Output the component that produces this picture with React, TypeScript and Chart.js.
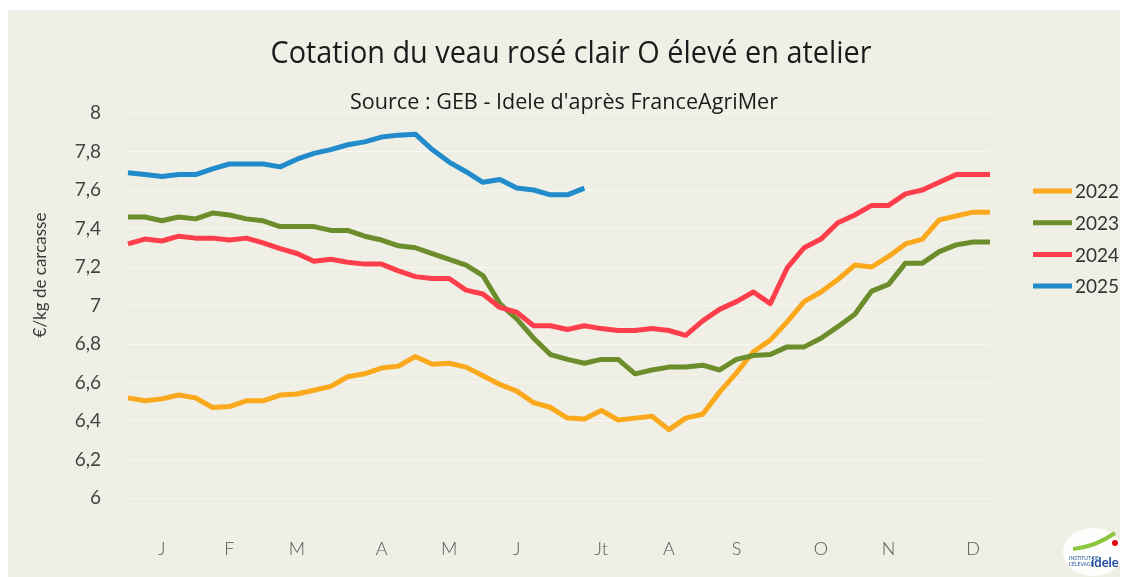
import React, { useEffect, useRef } from "react";
import { Chart, registerables } from "chart.js";

Chart.register(...registerables);

// Weekly categories (52 weeks), month initials placed at mid-month weeks
const WEEK_LABELS = [
  "", "", "J", "", "", "", "F", "", "", "", "M", "", "", "",
  "", "A", "", "", "", "M", "", "", "", "J", "", "", "", "",
  "Jt", "", "", "", "A", "", "", "", "S", "", "", "", "", "O",
  "", "", "", "N", "", "", "", "", "D", "",
];

const SERIES_NAMES = ["2022", "2023", "2024", "2025"];

const VALUES_2022 = [
  6.52, 6.505, 6.515, 6.535, 6.52, 6.47, 6.475, 6.505, 6.505, 6.535,
  6.54, 6.56, 6.58, 6.63, 6.645, 6.675, 6.685, 6.735, 6.695, 6.7,
  6.68, 6.635, 6.59, 6.555, 6.495, 6.47, 6.415, 6.41, 6.455, 6.405,
  6.415, 6.425, 6.355, 6.415, 6.435, 6.55, 6.65, 6.76, 6.82, 6.915,
  7.02, 7.07, 7.135, 7.21, 7.2, 7.255, 7.32, 7.345, 7.445, 7.465,
  7.485, 7.485,
];

const VALUES_2023 = [
  7.46, 7.46, 7.44, 7.46, 7.45, 7.48, 7.47, 7.45, 7.44, 7.41,
  7.41, 7.41, 7.39, 7.39, 7.36, 7.34, 7.31, 7.3, 7.27, 7.24,
  7.21, 7.155, 7.01, 6.93, 6.83, 6.745, 6.72, 6.7, 6.72, 6.72,
  6.645, 6.665, 6.68, 6.68, 6.69, 6.665, 6.72, 6.74, 6.745, 6.785,
  6.785, 6.83, 6.89, 6.955, 7.075, 7.11, 7.22, 7.22, 7.28, 7.315,
  7.33, 7.33,
];

const VALUES_2024 = [
  7.32, 7.345, 7.335, 7.36, 7.35, 7.35, 7.34, 7.35, 7.325, 7.295,
  7.27, 7.23, 7.24, 7.225, 7.215, 7.215, 7.18, 7.15, 7.14, 7.14,
  7.08, 7.06, 6.99, 6.965, 6.895, 6.895, 6.875, 6.895, 6.88, 6.87,
  6.87, 6.88, 6.87, 6.845, 6.92, 6.98, 7.02, 7.07, 7.01, 7.195,
  7.3, 7.345, 7.43, 7.47, 7.52, 7.52, 7.58, 7.6, 7.64, 7.68,
  7.68, 7.68,
];

const VALUES_2025 = [
  7.69, 7.68, 7.67, 7.68, 7.68, 7.71, 7.735, 7.735, 7.735, 7.72,
  7.76, 7.79, 7.81, 7.835, 7.85, 7.875, 7.885, 7.89, 7.81, 7.745,
  7.695, 7.64, 7.655, 7.61, 7.6, 7.575, 7.575, 7.61,
];

const SERIES_COLORS = ["#FBA91C", "#6C8D2B", "#FF3E4C", "#218BCB"];

const TITLE = "Cotation du veau rosé clair O élevé en atelier";
const SUBTITLE = "Source : GEB - Idele d'après FranceAgriMer";
const Y_TITLE = "€/kg de carcasse";

const Y_MIN = 6;
const Y_MAX = 8;
const Y_STEP = 0.2;

const TITLE_FONT = "'Open Sans', 'Noto Sans', sans-serif";
const BODY = "Lato, 'Noto Sans', sans-serif";

function drawFitted(ctx: any, text: string, cx: number, baseline: number, font: string, width: number) {
  ctx.save();
  ctx.font = font;
  const w = ctx.measureText(text).width;
  ctx.translate(cx, baseline);
  ctx.scale(width / w, 1);
  ctx.textAlign = "center";
  ctx.textBaseline = "alphabetic";
  ctx.fillText(text, 0, 0);
  ctx.restore();
}

const decorPlugin = {
  id: "decor",
  afterDraw(chart: any) {
    const { ctx, chartArea } = chart;
    ctx.save();
    // Titles
    ctx.fillStyle = "#1b1b1b";
    drawFitted(ctx, TITLE, 563, 52.5, `31px ${TITLE_FONT}`, 601);
    drawFitted(ctx, SUBTITLE, 556, 98.5, `21px ${TITLE_FONT}`, 428);

    // Y axis title
    ctx.save();
    ctx.translate(33, 265);
    ctx.rotate(-Math.PI / 2);
    ctx.font = `17px ${BODY}`;
    ctx.fillStyle = "#3a3a3a";
    ctx.textAlign = "center";
    ctx.textBaseline = "middle";
    ctx.fillText(Y_TITLE, 0, 0);
    ctx.restore();

    // Legend
    chart.data.datasets.forEach((ds: any, i: number) => {
      const y = chartArea.top + 78 + i * 31.7;
      ctx.beginPath();
      ctx.strokeStyle = ds.borderColor;
      ctx.lineWidth = 5;
      ctx.lineCap = "butt";
      ctx.moveTo(chartArea.right + 43, y);
      ctx.lineTo(chartArea.right + 82, y);
      ctx.stroke();
      ctx.fillStyle = "#333333";
      ctx.textAlign = "left";
      ctx.textBaseline = "middle";
      ctx.font = `19px ${BODY}`;
      ctx.fillText(ds.label, chartArea.right + 85, y + 1);
    });

    // Small logo (bottom right)
    const lx = chart.width - 55;
    const ly = chart.height - 50;
    ctx.fillStyle = "rgba(255,255,255,0.9)";
    ctx.beginPath();
    ctx.ellipse(lx + 28, ly + 25, 30, 24, 0, 0, Math.PI * 2);
    ctx.fill();
    ctx.strokeStyle = "#8DC63F";
    ctx.lineWidth = 4;
    ctx.beginPath();
    ctx.moveTo(lx + 8, ly + 22);
    ctx.quadraticCurveTo(lx + 30, ly + 20, lx + 50, ly + 6);
    ctx.stroke();
    ctx.fillStyle = "#E30613";
    ctx.beginPath();
    ctx.arc(lx + 50, ly + 16, 3, 0, Math.PI * 2);
    ctx.fill();
    ctx.fillStyle = "#1D4E9E";
    ctx.font = `bold 13px ${BODY}`;
    ctx.textAlign = "left";
    ctx.textBaseline = "alphabetic";
    ctx.fillText("idele", lx + 26, ly + 40);
    ctx.font = `5px ${BODY}`;
    ctx.fillText("INSTITUT DE", lx + 4, ly + 33);
    ctx.fillText("L'ÉLEVAGE", lx + 4, ly + 39);
    ctx.restore();
  },
};

function formatTick(v: number) {
  const r = Math.round(v * 10) / 10;
  return Number.isInteger(r) ? String(r) : r.toFixed(1).replace(".", ",");
}

export default function App() {
  const canvasRef = useRef<HTMLCanvasElement | null>(null);

  useEffect(() => {
    if (!canvasRef.current) return;
    const seriesValues = [VALUES_2022, VALUES_2023, VALUES_2024, VALUES_2025];
    const chart = new Chart(canvasRef.current, {
      type: "line",
      data: {
        labels: WEEK_LABELS,
        datasets: SERIES_NAMES.map((name, i) => ({
          label: name,
          data: seriesValues[i],
          borderColor: SERIES_COLORS[i],
          backgroundColor: SERIES_COLORS[i],
          borderWidth: 5,
          pointRadius: 0,
          pointHoverRadius: 0,
          tension: 0,
          borderJoinStyle: "round" as const,
          borderCapStyle: "butt" as const,
          fill: false,
          order: 4 - i,
        })),
      },
      options: {
        animation: false,
        responsive: true,
        maintainAspectRatio: false,
        layout: { padding: { top: 103, right: 130, bottom: 17, left: 0 } },
        plugins: {
          legend: { display: false },
          title: { display: false },
          tooltip: { enabled: false },
        },
        scales: {
          x: {
            type: "category",
            offset: false,
            afterFit: (scale: any) => {
              scale.height = 62;
            },
            grid: { display: false, drawTicks: false },
            border: { display: false },
            ticks: {
              autoSkip: false,
              maxRotation: 0,
              minRotation: 0,
              padding: 40,
              color: "#555555",
              font: { family: BODY, size: 18, weight: "300" as any },
            },
          },
          y: {
            min: Y_MIN,
            max: Y_MAX,
            afterFit: (scale: any) => {
              scale.width = 120;
            },
            grid: {
              color: "rgba(255,255,255,0.5)",
              lineWidth: 1,
              drawTicks: false,
            },
            border: { display: false },
            ticks: {
              stepSize: Y_STEP,
              padding: 27,
              color: "#444444",
              font: { family: BODY, size: 19 },
              callback: (v: any) => formatTick(Number(v)),
            },
          },
        },
      },
      plugins: [decorPlugin],
    });
    return () => chart.destroy();
  }, []);

  return (
    <div
      style={{
        position: "fixed",
        left: 8,
        top: 10,
        width: 1112,
        height: 567,
        background: "#EFEFE6",
      }}
    >
      <canvas ref={canvasRef} />
    </div>
  );
}
